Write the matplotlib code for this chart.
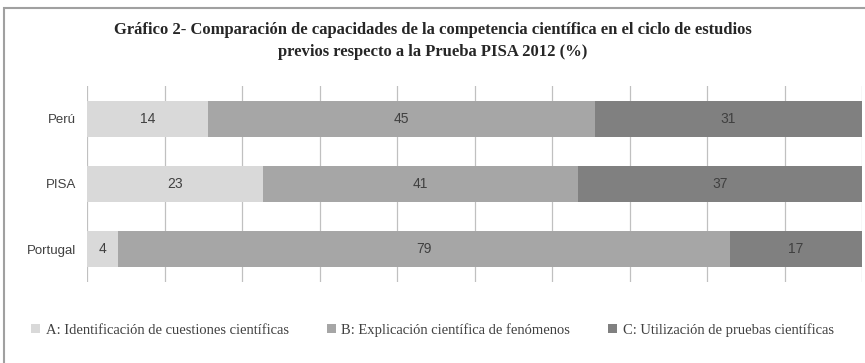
import matplotlib
matplotlib.use("Agg")
import matplotlib.pyplot as plt
from matplotlib.patches import Rectangle
import numpy as np

countries = ["Perú", "PISA", "Portugal"]
series_names = ["A: Identificación de cuestiones científicas",
                "B: Explicación científica de fenómenos",
                "C: Utilización de pruebas científicas"]
serie_a = [14, 23, 4]
serie_b = [45, 41, 79]
serie_c = [31, 37, 17]
colors = ["#d9d9d9", "#a6a6a6", "#808080"]

title = ("Gráfico 2- Comparación de capacidades de la competencia científica en el ciclo de estudios\n"
         "previos respecto a la Prueba PISA 2012 (%)")

fig = plt.figure(figsize=[8.65, 3.63], dpi=100)
fig.patch.set_facecolor("white")
ax = fig.add_axes([87/865, 1-282/363, (862-87)/865, (282-86)/363])

# bars are drawn as shares of each row total (100% stacked), labels keep the raw values
data = np.array([serie_a, serie_b, serie_c], dtype=float)
totals = data.sum(axis=0)
shares = data / totals * 100
y = np.arange(len(countries))
left = np.zeros(len(countries))
for i, name in enumerate(series_names):
    bars = ax.barh(y, shares[i], left=left, height=0.55, color=colors[i], label=name, zorder=2)
    for j, b in enumerate(bars):
        ax.text(left[j] + shares[i][j] / 2, y[j], str(int(data[i][j])), ha="center", va="center",
                fontsize=10, color="#404040", family="Liberation Sans", zorder=3)
    left += shares[i]

ax.set_xlim(0, 100)
ax.set_ylim(2.5, -0.5)
ax.set_xticks(np.arange(0, 101, 10))
ax.set_xticklabels([])
ax.tick_params(axis="x", length=0)
ax.tick_params(axis="y", length=0, pad=8)
ax.set_yticks(y)
ax.set_yticklabels(countries, fontsize=9.5, color="#404040", family="Liberation Sans")
ax.grid(axis="x", color="#c0c0c0", linewidth=0.9, zorder=0)
for s in ax.spines.values():
    s.set_visible(False)

fig.text(0.5, 1-41/363, title, ha="center", va="center", fontsize=12, fontweight="bold",
         family="Liberation Serif", color="#262626", linespacing=1.45)

fig.legend(loc="center", bbox_to_anchor=(0.5, 1-330/363), ncol=3, frameon=False,
           prop={"family": "Liberation Serif", "size": 10.5}, handlelength=0.6, handleheight=0.6,
           handletextpad=0.4, columnspacing=2.6, labelcolor="#404040")

fig.patches.append(Rectangle((4/865, -0.1), 1.2, 1 - 8/363 + 0.1, transform=fig.transFigure,
                             fill=False, edgecolor="#a0a0a0", linewidth=1.5))

fig.savefig("out.png", dpi=100)
